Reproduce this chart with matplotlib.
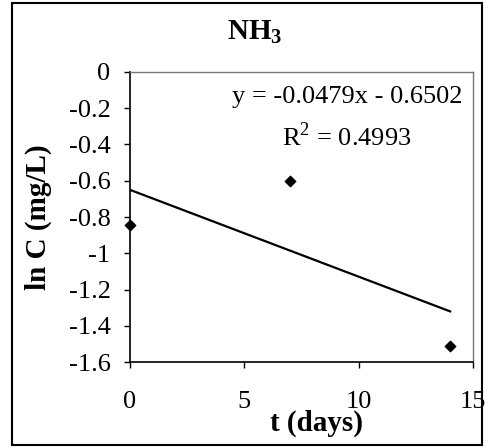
import numpy as np
import matplotlib
matplotlib.use("Agg")
import matplotlib.pyplot as plt
from matplotlib.patches import Rectangle

t_days = [0, 7, 14]
ln_c = [-0.843, -0.60, -1.514]
slope = -0.0479
intercept = -0.6502
r2 = 0.4993
x_ticks = [0, 5, 10, 15]
y_ticks = [0, -0.2, -0.4, -0.6, -0.8, -1, -1.2, -1.4, -1.6]

plt.rcParams['font.family'] = ['Liberation Serif', 'DejaVu Serif']
plt.rcParams['mathtext.fontset'] = 'custom'
plt.rcParams['mathtext.rm'] = 'Liberation Serif'
plt.rcParams['mathtext.bf'] = 'Liberation Serif:bold'

W, H = 489, 448
fig = plt.figure(figsize=(W / 100, H / 100), dpi=100)
ax = fig.add_axes([130 / W, 1 - 362 / H, (473 - 130) / W, (362 - 72) / H])

# outer chart frame
fig.patches.append(Rectangle((12 / W, 3 / H), (482 - 12) / W, (445 - 3) / H,
                             transform=fig.transFigure, fill=False,
                             edgecolor='black', linewidth=1.5))

ax.scatter(t_days, ln_c, marker='D', s=28, color='black', zorder=3, clip_on=False)
xs = np.array([t_days[0], t_days[-1]])
ax.plot(xs, slope * xs + intercept, color='black', linewidth=1.6)

ax.set_xlim(0, 15)
ax.set_ylim(-1.6, 0)
ax.set_xticks(x_ticks)
ax.set_yticks(y_ticks)
ax.set_yticklabels([f'{v:g}' for v in y_ticks])
ax.tick_params(axis='both', direction='out', length=4, width=1, labelsize=19)
ax.tick_params(axis='x', pad=17)
ax.tick_params(axis='y', pad=10)

for s in ['top', 'right']:
    ax.spines[s].set_color('#777777')
    ax.spines[s].set_linewidth(1)
for s in ['left', 'bottom']:
    ax.spines[s].set_linewidth(1.2)

ax.set_xlabel('t (days)', fontsize=21, fontweight='bold')
ax.xaxis.set_label_coords((316 - 130) / (473 - 130), -(410 - 362) / (362 - 72))
ax.set_ylabel('ln C (mg/L)', fontsize=21, fontweight='bold')
ax.yaxis.set_label_coords(-(130 - 52) / (473 - 130), 0.5)

fig.text(255 / W, 1 - 32 / H, r'NH$_\mathbf{3}$', fontsize=21, fontweight='bold',
         ha='center', va='center')

fig.text(347 / W, 1 - 97 / H, f'y = {slope:.4f}x - {abs(intercept):.4f}',
         fontsize=19, ha='center', va='center')
fig.text(347 / W, 1 - 137 / H, f'R$^2$ = {r2:.4f}', fontsize=19,
         ha='center', va='center')

fig.savefig('out.png', dpi=100)
